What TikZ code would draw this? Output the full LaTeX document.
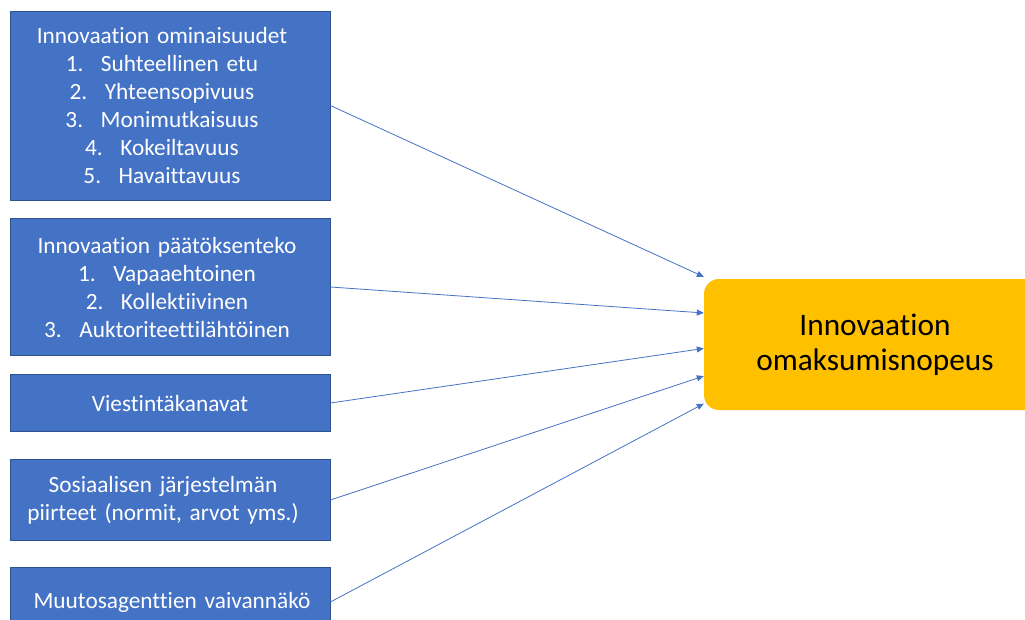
\documentclass[tikz,border=0pt]{standalone}
\usepackage{fontspec}
\setmainfont{Carlito}[Ligatures=NoCommon]
\usetikzlibrary{calc,arrows.meta}
\definecolor{boxblue}{HTML}{4472C4}
\definecolor{boxedge}{HTML}{2F528F}
\definecolor{resgold}{HTML}{FFC000}

\begin{document}
\begin{tikzpicture}[x=1pt, y=-1pt,
  pad/.style={execute at begin node={\leftskip=0pt plus 1fil\rightskip=#1 plus 1fil\parfillskip=0pt\relax}}, pad/.default=0pt,
  factor/.style={draw=boxedge, line width=0.8pt, fill=boxblue, text=white, text width=320pt, inner sep=0pt, align=center, pad, font=\fontsize{23.3}{28}\selectfont},
  result/.style={fill=resgold, rounded corners=15pt, minimum width=342pt, minimum height=131pt, align=center, font=\fontsize{31.3}{35}\selectfont},
  link/.style={draw=boxblue, line width=0.8pt, -{Triangle[length=7pt,width=6pt]}}]
\useasboundingbox (0,0) rectangle (1025,619); \clip (0,0) rectangle (1025,619);
\node[factor, pad=16pt, minimum height=189pt] (traits) at (170,105.5) {Innovaation ominaisuudet\\1.\hspace{0.75em}Suhteellinen etu\\2.\hspace{0.75em}Yhteensopivuus\\3.\hspace{0.75em}Monimutkaisuus\\4.\hspace{0.75em}Kokeiltavuus\\5.\hspace{0.75em}Havaittavuus};
\node[factor, pad=6pt, minimum height=137pt] (decision) at (170,287) {Innovaation päätöksenteko\\1.\hspace{0.75em}Vapaaehtoinen\\2.\hspace{0.75em}Kollektiivinen\\3.\hspace{0.75em}Auktoriteettilähtöinen};
\node[factor, minimum height=57.6pt] (channels) at (170,403) {Viestintäkanavat};
\node[factor, pad=14pt, minimum height=81pt] (social) at (170,500) {Sosiaalisen järjestelmän\\piirteet (normit, arvot yms.)};
\node[factor, pad=-4pt, minimum height=70pt] (agents) at (170,602) {Muutosagenttien vaivannäkö};
\node[result] (rate) at (875,344.5) {Innovaation\\omaksumisnopeus};
% arrows into the left side of the result box
\draw[link] (traits.east) -- ($(rate.north west)!-0.015!(rate.south west)$);
\draw[link] (decision.east) -- ($(rate.north west)!0.26!(rate.south west)$);
\draw[link] (channels.east) -- ($(rate.north west)!0.53!(rate.south west)$);
\draw[link] (social.east) -- ($(rate.north west)!0.74!(rate.south west)$);
\draw[link] (agents.east) -- ($(rate.north west)!0.95!(rate.south west)$);
\end{tikzpicture}
\end{document}
